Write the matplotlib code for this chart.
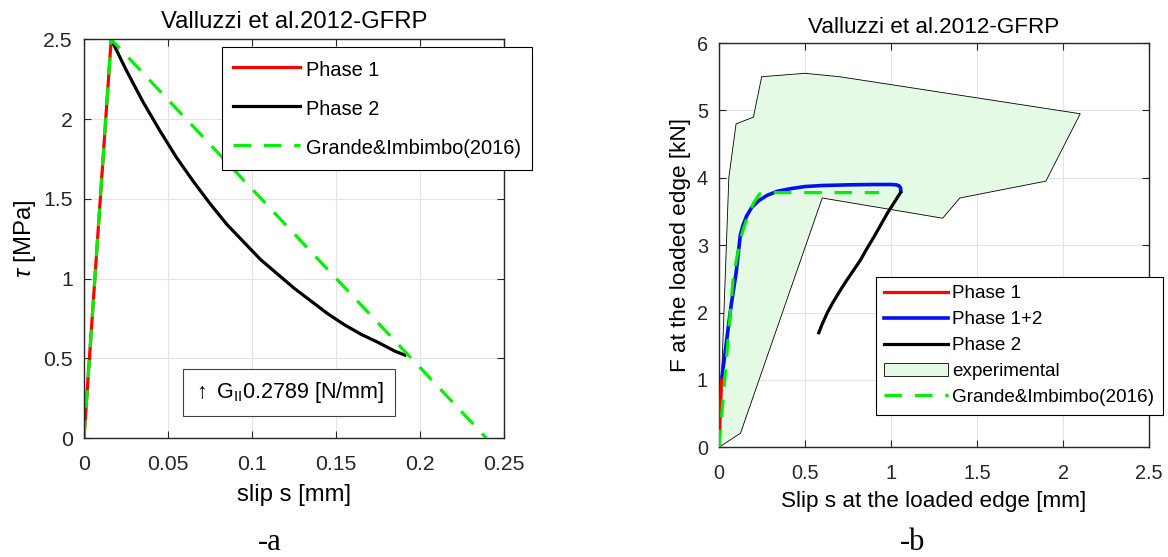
import matplotlib
matplotlib.use("Agg")
import matplotlib.pyplot as plt

plt.rcParams['font.family'] = ['Liberation Sans', 'DejaVu Sans']
plt.rcParams['mathtext.fontset'] = 'custom'
plt.rcParams['mathtext.rm'] = 'Liberation Sans'
plt.rcParams['mathtext.it'] = 'Liberation Sans:italic'

# ---- panel a: bond-slip law ----
a_phase1_s = [0.0, 0.0162]
a_phase1_t = [0.0, 2.5]
a_phase2_s = [0.0162, 0.025, 0.035, 0.045, 0.055, 0.065, 0.075, 0.085, 0.095, 0.105,
              0.115, 0.125, 0.135, 0.145, 0.155, 0.165, 0.175, 0.185, 0.191]
a_phase2_t = [2.5, 2.31, 2.11, 1.93, 1.76, 1.61, 1.47, 1.34, 1.23, 1.12,
              1.03, 0.94, 0.86, 0.78, 0.71, 0.65, 0.60, 0.545, 0.52]
a_grande_s = [0.0, 0.0162, 0.2395]
a_grande_t = [0.0, 2.5, 0.0]
gii_text = r'$\uparrow$ G$_{\mathregular{II}}$0.2789 [N/mm]'

# ---- panel b: load-slip response ----
b_phase1_s = [0.0, 0.015]
b_phase1_f = [0.0, 1.0]
b_phase12_s = [0.015, 0.04, 0.07, 0.1, 0.115, 0.124, 0.14, 0.16, 0.19, 0.23, 0.28, 0.34, 0.42,
               0.5, 0.6, 0.75, 0.9, 1.0, 1.03, 1.047, 1.055, 1.057]
b_phase12_f = [1.0, 1.5, 2.1, 2.6, 2.95, 3.15, 3.3, 3.43, 3.56, 3.66, 3.74, 3.80, 3.84,
               3.87, 3.885, 3.895, 3.9, 3.9, 3.895, 3.88, 3.85, 3.80]
b_phase2_s = [0.58, 0.60, 0.63, 0.66, 0.70, 0.74, 0.78, 0.82, 0.86, 0.90, 0.94, 0.98, 1.02, 1.055]
b_phase2_f = [1.70, 1.83, 2.00, 2.14, 2.31, 2.47, 2.62, 2.77, 2.95, 3.12, 3.30, 3.48, 3.64, 3.78]
b_exp_s = [0.0, 0.057, 0.099, 0.2, 0.248, 0.5, 0.7, 2.1, 1.9, 1.4, 1.3, 0.6, 0.125, 0.0]
b_exp_f = [0.0, 4.0, 4.8, 4.9, 5.5, 5.55, 5.5, 4.95, 3.95, 3.7, 3.4, 3.7, 0.21, 0.0]
b_grande_s = [0.0, 0.04, 0.082, 0.12, 0.141, 0.17, 0.2, 0.236, 0.3, 0.93]
b_grande_f = [0.0, 1.2, 2.51, 3.05, 3.23, 3.45, 3.62, 3.76, 3.78, 3.78]

title = 'Valluzzi et al.2012-GFRP'
dark = '#262626'
green = '#00f000'
blue = '#0010f0'
red = '#ff0000'
dash = (0, (5.5, 4))


def style_axes(ax, fs, xpad, ypad):
    ax.grid(True, color='#e3e3e3', linewidth=0.8)
    ax.set_axisbelow(True)
    ax.tick_params(direction='in', top=True, right=True, labelsize=fs, colors=dark, length=5)
    ax.tick_params(axis='x', pad=xpad)
    ax.tick_params(axis='y', pad=ypad)
    for sp in ax.spines.values():
        sp.set_color(dark)
        sp.set_linewidth(1.0)


fig = plt.figure(figsize=(11.68, 5.57), dpi=100)

ax1 = fig.add_axes([0.0719, 0.2136, 0.3596, 0.7158])
ax1.plot(a_phase1_s, a_phase1_t, color=red, lw=2.3, label='Phase 1')
ax1.plot(a_phase2_s, a_phase2_t, color='black', lw=2.3, label='Phase 2')
ax1.plot(a_grande_s, a_grande_t, color=green, lw=2.3, ls=dash, label='Grande&Imbimbo(2016)')
ax1.set_xlim(0, 0.25)
ax1.set_ylim(0, 2.5)
ax1.set_xticks([0, 0.05, 0.1, 0.15, 0.2, 0.25])
ax1.set_xticklabels(['0', '0.05', '0.1', '0.15', '0.2', '0.25'])
ax1.set_yticks([0, 0.5, 1, 1.5, 2, 2.5])
ax1.set_yticklabels(['0', '0.5', '1', '1.5', '2', '2.5'])
style_axes(ax1, 15.3, 12.5, 8)
ax1.set_title(title, fontsize=17.2, pad=0, y=1.0276)
ax1.set_xlabel('slip s [mm]', fontsize=17.2, va='center')
ax1.xaxis.set_label_coords(0.5, -0.143)
ax1.set_ylabel(r'$\tau$ [MPa]', fontsize=17.2, va='center')
ax1.yaxis.set_label_coords(-0.14, 0.5)
leg1 = ax1.legend(loc='upper left', bbox_to_anchor=(0.329, 0.98), fontsize=14.4, handlelength=3.35,
                  handleheight=1.4, labelspacing=0.78, borderpad=0.55, handletextpad=0.3,
                  fancybox=False, framealpha=1, edgecolor='black', borderaxespad=0)
leg1.get_frame().set_linewidth(0.8)
ax1.text(0.122, 0.285, gii_text, fontsize=15.5, ha='center', va='center',
         bbox=dict(boxstyle='square,pad=0.5', facecolor='white', edgecolor='#404040', linewidth=0.8))
fig.text(270 / 1168, 1 - 543 / 557, '-a', family='Liberation Serif', fontsize=22, ha='center', va='center')

ax2 = fig.add_axes([0.6156, 0.1969, 0.3682, 0.7259])
ax2.plot(b_phase1_s, b_phase1_f, color=red, lw=2.3, label='Phase 1', zorder=4)
ax2.plot(b_phase12_s, b_phase12_f, color=blue, lw=2.6, label='Phase 1+2', zorder=3)
ax2.plot(b_phase2_s, b_phase2_f, color='black', lw=2.3, label='Phase 2', zorder=3)
ax2.fill(b_exp_s, b_exp_f, facecolor='#e4fae4', edgecolor='black', linewidth=0.6, label='experimental', zorder=1)
ax2.plot(b_grande_s, b_grande_f, color=green, lw=2.3, ls=dash, label='Grande&Imbimbo(2016)', zorder=5)
ax2.set_xlim(0, 2.5)
ax2.set_ylim(0, 6)
ax2.set_xticks([0, 0.5, 1, 1.5, 2, 2.5])
ax2.set_xticklabels(['0', '0.5', '1', '1.5', '2', '2.5'])
ax2.set_yticks([0, 1, 2, 3, 4, 5, 6])
style_axes(ax2, 14.3, 11.7, 8)
ax2.set_title(title, fontsize=16.2, pad=0, y=1.0255)
ax2.set_xlabel('Slip s at the loaded edge [mm]', fontsize=16.2, va='center')
ax2.xaxis.set_label_coords(0.5, -0.1346)
ax2.set_ylabel('F at the loaded edge [kN]', fontsize=16.2, va='center')
ax2.yaxis.set_label_coords(-0.0907, 0.5)
leg2 = ax2.legend(loc='upper left', bbox_to_anchor=(0.365, 0.422), fontsize=13.6, handlelength=3.35,
                  labelspacing=0.46, borderpad=0.45, handletextpad=0.25, fancybox=False, framealpha=1,
                  edgecolor='black', borderaxespad=0)
leg2.get_frame().set_linewidth(0.8)
fig.text(913 / 1168, 1 - 543 / 557, '-b', family='Liberation Serif', fontsize=22, ha='center', va='center')

fig.savefig('out.png', dpi=100)
